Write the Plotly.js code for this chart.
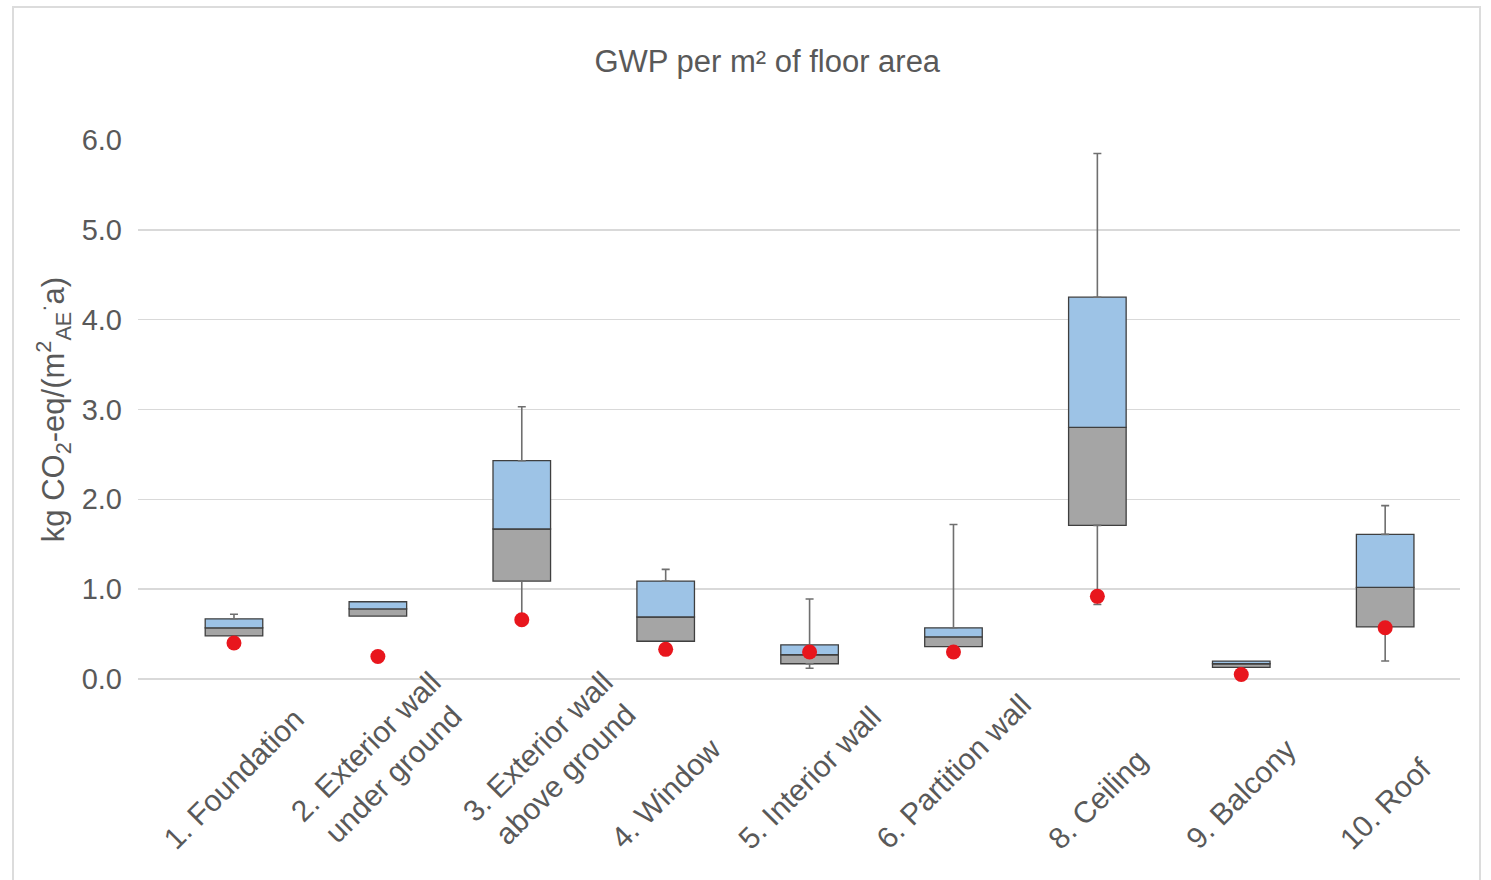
<!DOCTYPE html>
<html>
<head>
<meta charset="utf-8">
<script src="https://cdn.plot.ly/plotly-3.0.1.min.js"></script>
<style>
  html, body { margin: 0; padding: 0; background: #ffffff; }
  #chart { position: absolute; left: 0; top: 0; width: 1491px; height: 880px; }
  #frame { position: absolute; left: 12px; top: 6px; width: 1469px; height: 900px;
           border: 2px solid #dcdcdc; pointer-events: none; box-sizing: border-box; }
</style>
</head>
<body>
<div id="chart"></div>
<div id="frame"></div>
<script>
// ---- data ----
const categories = [
  "1. Foundation",
  "2. Exterior wall<br>under ground",
  "3. Exterior wall<br>above ground",
  "4. Window",
  "5. Interior wall",
  "6. Partition wall",
  "8. Ceiling",
  "9. Balcony",
  "10. Roof"
];
const minVals    = [0.48, 0.70, 0.66, 0.42, 0.12, 0.36, 0.83, 0.13, 0.20];
const q1Vals     = [0.48, 0.70, 1.09, 0.42, 0.17, 0.36, 1.71, 0.13, 0.58];
const medianVals = [0.57, 0.78, 1.67, 0.69, 0.27, 0.47, 2.80, 0.17, 1.02];
const q3Vals     = [0.67, 0.86, 2.43, 1.09, 0.38, 0.57, 4.25, 0.20, 1.61];
const maxVals    = [0.72, 0.86, 3.03, 1.22, 0.89, 1.72, 5.85, 0.20, 1.93];
const refVals    = [0.40, 0.25, 0.66, 0.33, 0.30, 0.30, 0.92, 0.05, 0.57];
const yTickVals  = [0, 1, 2, 3, 4, 5, 6];
const yTickText  = ["0.0", "1.0", "2.0", "3.0", "4.0", "5.0", "6.0"];

// ---- styles ----
const FONT = "Liberation Sans, Arial, sans-serif";
const TXT = "#595959";
const boxLine = { color: "#3f3f3f", width: 1.3 };
const barW = 0.40;
// small horizontal nudges of the rotated category labels (px), as in the reference
const labelShift = [0, 2, 30, 0, 0, 0, 0, 0, 0];

const idx = categories.map((_, i) => i);

// lower box (Q1 -> median), grey
const lowerBox = {
  type: "bar", x: categories, base: q1Vals,
  y: idx.map(i => medianVals[i] - q1Vals[i]),
  width: barW, marker: { color: "#a5a5a5", line: boxLine },
  hoverinfo: "skip", showlegend: false
};
// upper box (median -> Q3), blue
const upperBox = {
  type: "bar", x: categories, base: medianVals,
  y: idx.map(i => q3Vals[i] - medianVals[i]),
  width: barW, marker: { color: "#9dc3e6", line: boxLine },
  hoverinfo: "skip", showlegend: false
};

// whiskers
const upIdx = idx.filter(i => maxVals[i] > q3Vals[i]);
const loIdx = idx.filter(i => minVals[i] < q1Vals[i]);
const whiskStyle = { color: "#6f6f6f", thickness: 1.6, width: 4 };
const upperWhisker = {
  type: "scatter", mode: "markers",
  x: upIdx.map(i => categories[i]), y: upIdx.map(i => q3Vals[i]),
  marker: { size: 1, opacity: 0 },
  error_y: Object.assign({ type: "data", symmetric: false,
    array: upIdx.map(i => maxVals[i] - q3Vals[i]),
    arrayminus: upIdx.map(() => 0) }, whiskStyle),
  hoverinfo: "skip", showlegend: false, cliponaxis: false
};
const lowerWhisker = {
  type: "scatter", mode: "markers",
  x: loIdx.map(i => categories[i]), y: loIdx.map(i => q1Vals[i]),
  marker: { size: 1, opacity: 0 },
  error_y: Object.assign({ type: "data", symmetric: false,
    array: loIdx.map(() => 0),
    arrayminus: loIdx.map(i => q1Vals[i] - minVals[i]) }, whiskStyle),
  hoverinfo: "skip", showlegend: false, cliponaxis: false
};

// red dots
const refDots = {
  type: "scatter", mode: "markers", x: categories, y: refVals,
  marker: { color: "#e8161d", size: 15, line: { width: 0 } },
  hoverinfo: "skip", showlegend: false, cliponaxis: false
};

// category labels, rotated like the reference
const labelAnnotations = categories.map((c, i) => ({
  x: c, xref: "x", y: -0.332, yref: "paper", xshift: labelShift[i],
  text: c, textangle: -45, showarrow: false,
  xanchor: "center", yanchor: "bottom", align: "center",
  font: { family: FONT, size: 30, color: TXT }
}));

const layout = {
  width: 1491, height: 880,
  paper_bgcolor: "rgba(0,0,0,0)", plot_bgcolor: "#ffffff",
  margin: { l: 138, r: 31, t: 140, b: 201 },
  barmode: "overlay",
  title: {
    text: "GWP per m² of floor area",
    x: 0.476, xref: "paper", xanchor: "center",
    y: 1 - 61 / 880, yref: "container", yanchor: "middle",
    font: { family: FONT, size: 31, color: TXT }
  },
  xaxis: {
    type: "category", categoryarray: categories, categoryorder: "array",
    range: [-0.667, 8.52], showticklabels: false, showgrid: false,
    zeroline: false, showline: false, ticks: "", fixedrange: true
  },
  yaxis: {
    range: [0, 6.0], tickvals: yTickVals, ticktext: yTickText,
    showgrid: true, gridcolor: "#d9d9d9", gridwidth: 1.5,
    zeroline: true, zerolinecolor: "#d9d9d9", zerolinewidth: 1.5,
    showline: false, ticks: "", ticklabelstandoff: 15,
    tickfont: { family: FONT, size: 29, color: TXT },
    title: {
      text: "kg CO<sub>2</sub>-eq/(m<sup>2</sup><sub>AE</sub><sup>·</sup>a)",
      standoff: 7,
      font: { family: FONT, size: 31, color: TXT }
    },
    fixedrange: true
  },
  annotations: labelAnnotations,
  showlegend: false
};

Plotly.newPlot("chart", [lowerBox, upperBox, upperWhisker, lowerWhisker, refDots], layout,
  { displayModeBar: false, staticPlot: true });
</script>
</body>
</html>
